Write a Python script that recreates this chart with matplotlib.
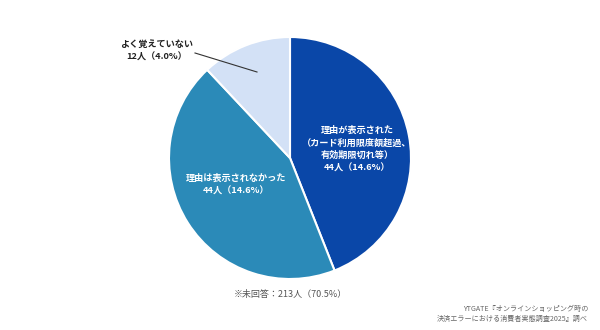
import matplotlib.pyplot as plt

plt.rcParams['font.family'] = ['Noto Sans CJK JP', 'DejaVu Sans']

# 回答者数（未回答を除く）
labels = ['理由が表示された\n（カード利用限度額超過、\n有効期限切れ等）',
          '理由は表示されなかった',
          'よく覚えていない']
counts = [44, 44, 12]
shares = [14.6, 14.6, 4.0]
colors = ['#0a47a8', '#2b8ab8', '#d3e1f6']
no_answer = 213
no_answer_share = 70.5

fig = plt.figure(figsize=(6, 3.3), dpi=100)
ax = fig.add_axes([0, 0, 1, 1])

cx, cy, r = 290, 158, 121
wedges, _ = ax.pie(counts, colors=colors, startangle=90, counterclock=False,
                   center=(cx, cy), radius=r, frame=True,
                   wedgeprops=dict(edgecolor='white', linewidth=1.5))
ax.set_xlim(0, 600)
ax.set_ylim(330, 0)
ax.set_aspect('equal')
ax.axis('off')

# ylim is inverted, so the pie is mirrored; flip the wedges back
for w in wedges:
    th1, th2 = w.theta1, w.theta2
    w.set_theta1(-th2)
    w.set_theta2(-th1)

txt = dict(color='white', fontsize=6.6, fontweight='bold', ha='center', va='center',
           multialignment='center', linespacing=1.5)
ax.text(357, 149, f'{labels[0]}\n{counts[0]}人（{shares[0]}%）', **txt)
ax.text(236, 185, f'{labels[1]}\n{counts[1]}人（{shares[1]}%）', **txt)

ax.text(157, 51, f'{labels[2]}\n{counts[2]}人（{shares[2]}%）', color='#222222',
        fontsize=6.6, fontweight='bold', ha='center', va='center', linespacing=1.5)
ax.plot([195, 257], [53, 72], color='#333333', lw=0.8)

ax.text(290, 295, f'※未回答：{no_answer}人（{no_answer_share}%）', color='#555555',
        fontsize=6.5, ha='center', va='center')
ax.text(588, 309, 'YTGATE『オンラインショッピング時の', color='#666666',
        fontsize=5.1, ha='right', va='center')
ax.text(588, 319, '決済エラーにおける消費者実態調査2025』調べ', color='#666666',
        fontsize=5.1, ha='right', va='center')

fig.savefig('out.png', dpi=100)
